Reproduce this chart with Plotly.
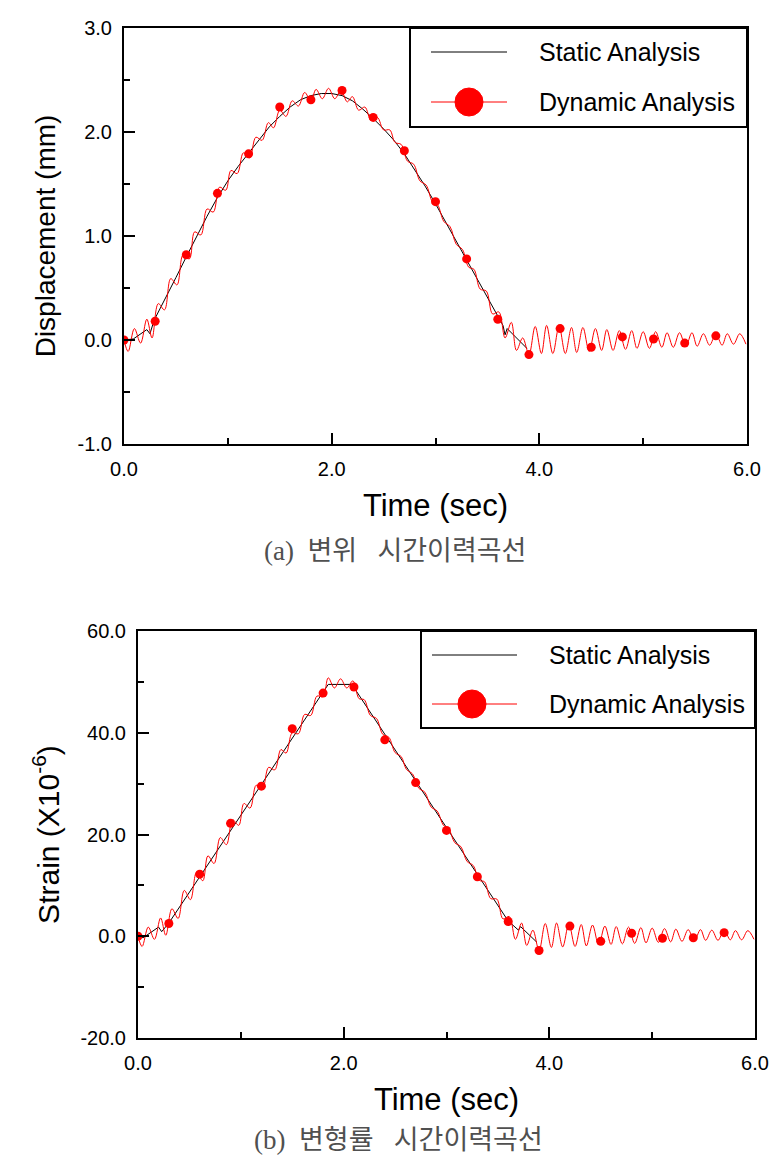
import plotly.graph_objects as go

# ---------------- data ----------------
# (a) displacement, static analysis
t_static_disp = [0.00, 0.09, 0.22, 0.25, 0.29, 0.40, 0.50, 0.60, 0.70, 0.80, 0.90,
                 1.00, 1.10, 1.20, 1.30, 1.40, 1.50, 1.60, 1.70, 1.80, 1.90, 2.00,
                 2.10, 2.20, 2.30, 2.40, 2.50, 2.60, 2.70, 2.80, 2.90, 3.00, 3.10,
                 3.20, 3.30, 3.40, 3.50, 3.60, 3.65, 3.67, 3.69, 3.88]
disp_static = [0.00, 0.01, 0.10, 0.06, 0.19, 0.40, 0.60, 0.80, 1.00, 1.19, 1.37,
               1.53, 1.67, 1.80, 1.93, 2.05, 2.15, 2.24, 2.31, 2.35, 2.37, 2.37,
               2.35, 2.30, 2.22, 2.13, 2.03, 1.92, 1.79, 1.64, 1.48, 1.31, 1.13,
               0.95, 0.77, 0.58, 0.40, 0.22, 0.14, 0.05, 0.11, -0.08]

# (b) strain, static analysis
t_static_strain = [0.00, 0.05, 0.20, 0.23, 0.30, 1.85, 2.08, 3.60, 3.70, 3.72, 3.88]
strain_static = [0.0, -0.3, 1.8, 0.9, 2.6, 49.5, 49.5, 3.0, 1.2, 1.9, -1.2]

# dynamic analysis: peaks / troughs of the oscillating curve
t_dyn = [0.00, 0.04, 0.10, 0.16, 0.22, 0.27, 0.33, 0.39, 0.45, 0.51, 0.57, 0.63,
         0.68, 0.74, 0.80, 0.86, 0.92, 0.98, 1.03, 1.09, 1.15, 1.21, 1.27, 1.33,
         1.39, 1.44, 1.50, 1.56, 1.62, 1.68, 1.74, 1.80, 1.85, 1.91, 1.97, 2.03,
         2.09, 2.15, 2.20, 2.26, 2.32, 2.38, 2.44, 2.50, 2.56, 2.61, 2.67, 2.73,
         2.79, 2.85, 2.91, 2.97, 3.02, 3.08, 3.14, 3.20, 3.26, 3.32, 3.37, 3.43,
         3.49, 3.55, 3.61, 3.67, 3.73, 3.78, 3.84, 3.90, 3.96, 4.02, 4.07, 4.13,
         4.19, 4.25, 4.31, 4.36, 4.42, 4.48, 4.54, 4.60, 4.65, 4.71, 4.77, 4.83,
         4.89, 4.94, 5.00, 5.06, 5.12, 5.18, 5.23, 5.29, 5.35, 5.41, 5.47, 5.52,
         5.58, 5.64, 5.70, 5.76, 5.81, 5.87, 5.93, 5.99]
disp_dyn = [0.00, -0.11, 0.11, -0.03, 0.20, 0.02, 0.35, 0.29, 0.59, 0.53, 0.82, 0.78,
            1.04, 1.01, 1.26, 1.23, 1.47, 1.44, 1.63, 1.60, 1.80, 1.75, 1.95, 1.92,
            2.09, 2.04, 2.21, 2.15, 2.30, 2.25, 2.38, 2.30, 2.41, 2.32, 2.42, 2.32,
            2.40, 2.29, 2.34, 2.21, 2.24, 2.11, 2.14, 2.02, 2.02, 1.90, 1.88, 1.72,
            1.69, 1.53, 1.49, 1.33, 1.30, 1.14, 1.09, 0.92, 0.87, 0.70, 0.68, 0.49,
            0.47, 0.25, 0.27, 0.02, 0.17, -0.10, 0.02, -0.14, 0.13, -0.13, 0.14, -0.13,
            0.13, -0.13, 0.12, -0.12, 0.12, -0.11, 0.11, -0.10, 0.10, -0.10, 0.09, -0.09,
            0.09, -0.08, 0.08, -0.08, 0.08, -0.07, 0.07, -0.07, 0.07, -0.06, 0.07, -0.06,
            0.06, -0.05, 0.06, -0.05, 0.06, -0.04, 0.06, -0.04]
strain_dyn = [0.0, -2.0, 1.8, -0.6, 3.6, 0.2, 5.4, 3.5, 9.0, 7.2, 12.6, 10.9,
              15.8, 14.3, 19.4, 18.0, 22.9, 21.8, 26.1, 25.2, 29.7, 29.0, 33.2, 32.7,
              36.7, 36.0, 40.0, 39.8, 43.6, 43.4, 47.2, 47.1, 50.8, 48.8, 50.6, 48.8,
              50.2, 46.7, 46.5, 43.4, 42.8, 39.7, 39.1, 36.1, 35.3, 32.8, 31.9, 29.1,
              28.3, 25.4, 24.6, 21.8, 21.2, 18.4, 17.6, 14.7, 13.9, 11.0, 10.7, 7.4,
              7.3, 3.4, 3.9, -0.6, 2.6, -1.8, 1.2, -2.8, 2.5, -2.2, 2.6, -2.1,
              2.4, -2.0, 2.3, -1.9, 2.2, -1.7, 2.0, -1.6, 1.9, -1.5, 1.8, -1.4,
              1.7, -1.3, 1.6, -1.2, 1.5, -1.1, 1.4, -1.0, 1.3, -0.9, 1.3, -0.8,
              1.2, -0.8, 1.2, -0.7, 1.1, -0.7, 1.1, -0.6]

# dynamic analysis: plotted symbols
t_marker = [0.0, 0.3, 0.6, 0.9, 1.2, 1.5, 1.8, 2.1, 2.4, 2.7,
            3.0, 3.3, 3.6, 3.9, 4.2, 4.5, 4.8, 5.1, 5.4, 5.7]
disp_marker = [0.00, 0.18, 0.82, 1.41, 1.79, 2.24, 2.31, 2.40, 2.14, 1.82,
               1.33, 0.78, 0.20, -0.14, 0.11, -0.07, 0.03, 0.01, -0.03, 0.04]
strain_marker = [0.0, 2.5, 12.2, 22.2, 29.5, 40.8, 47.8, 49.0, 38.6, 30.2,
                 20.8, 11.7, 2.9, -2.8, 2.0, -1.0, 0.6, -0.4, -0.3, 0.7]

# tick labels
x_tickvals = [0, 2, 4, 6]
x_ticktext = ["0.0", "2.0", "4.0", "6.0"]
disp_tickvals = [-1, 0, 1, 2, 3]
disp_ticktext = ["-1.0", "0.0", "1.0", "2.0", "3.0"]
strain_tickvals = [-20, 0, 20, 40, 60]
strain_ticktext = ["-20.0", "0.0", "20.0", "40.0", "60.0"]

series_names = ["Static Analysis", "Dynamic Analysis"]
x_title = "Time (sec)"
y_titles = ["Displacement (mm)", "Strain (X10<sup>-6</sup>)"]
captions = ["(a)\u00a0\u00a0변위\u00a0\u00a0\u00a0시간이력곡선",
            "(b)\u00a0\u00a0변형률\u00a0\u00a0\u00a0시간이력곡선"]

# ---------------- styling ----------------
W, H = 775, 1165
FONT = "Liberation Sans, Arial, sans-serif"
RED = "#ff0000"


def px(x):
    return x / W


def py(y):
    return 1 - y / H


fig = go.Figure()

panels = [
    dict(xa="x", ya="y", ts=t_static_disp, vs=disp_static, vd=disp_dyn, vm=disp_marker),
    dict(xa="x2", ya="y2", ts=t_static_strain, vs=strain_static, vd=strain_dyn, vm=strain_marker),
]
for p in panels:
    fig.add_trace(go.Scatter(x=p["ts"], y=p["vs"], mode="lines", name=series_names[0],
                             line=dict(color="black", width=1), xaxis=p["xa"], yaxis=p["ya"],
                             showlegend=False, hoverinfo="skip"))
    fig.add_trace(go.Scatter(x=t_dyn, y=p["vd"], mode="lines", name=series_names[1],
                             line=dict(color=RED, width=1, shape="spline", smoothing=1.0),
                             xaxis=p["xa"], yaxis=p["ya"], showlegend=False))
    fig.add_trace(go.Scatter(x=t_marker, y=p["vm"], mode="markers", name=series_names[1],
                             marker=dict(color=RED, size=9, line=dict(width=0)),
                             xaxis=p["xa"], yaxis=p["ya"], showlegend=False))

tickfont = dict(family=FONT, size=20, color="black")


def xcfg(domain, anchor):
    return dict(domain=domain, anchor=anchor, range=[0, 6],
                tickmode="array", tickvals=x_tickvals, ticktext=x_ticktext,
                ticks="inside", ticklen=11, tickwidth=2,
                tickcolor="black", showline=True, linewidth=2, linecolor="black",
                mirror=True, showgrid=False, zeroline=False, tickfont=tickfont,
                ticklabelstandoff=6, automargin=False,
                minor=dict(tickmode="linear", tick0=0, dtick=1, ticks="inside", ticklen=6,
                           tickwidth=2, tickcolor="black", showgrid=False),
                title=dict(text=x_title, font=dict(family=FONT, size=31, color="black"),
                           standoff=15))


def ycfg(domain, anchor, rng, tv, tt, title, tsize, standoff):
    return dict(domain=domain, anchor=anchor, range=rng,
                tickmode="array", tickvals=tv, ticktext=tt,
                ticks="inside", ticklen=11, tickwidth=2,
                tickcolor="black", showline=True, linewidth=2, linecolor="black",
                mirror=True, showgrid=False, zeroline=False, tickfont=tickfont,
                ticklabelstandoff=6, automargin=False,
                minor=dict(tickmode="linear", tick0=rng[0], dtick=(tv[1] - tv[0]) / 2,
                           ticks="inside", ticklen=6, tickwidth=2, tickcolor="black",
                           showgrid=False),
                title=dict(text=title, font=dict(family=FONT, size=tsize, color="black"),
                           standoff=standoff))


fig.update_layout(
    width=W, height=H, margin=dict(l=0, r=0, t=0, b=0),
    paper_bgcolor="white", plot_bgcolor="white", showlegend=False,
    xaxis=xcfg([px(124), px(747)], "y"),
    yaxis=ycfg([py(444), py(28)], "x", [-1, 3], disp_tickvals, disp_ticktext,
               y_titles[0], 28, 14),
    xaxis2=xcfg([px(138), px(755)], "y2"),
    yaxis2=ycfg([py(1038), py(631)], "x2", [-20, 60], strain_tickvals, strain_ticktext,
                y_titles[1], 30, 12),
)

# hand-drawn legend boxes (large symbol as in the reference)
shapes = []
annotations = []
legends = [
    dict(box=(410, 28, 747, 127), l0=431, l1=507, cx=469, tx=537, y1=52, y2=102),
    dict(box=(421, 631, 755, 728), l0=432, l1=517, cx=472, tx=547, y1=655, y2=704),
]
for lg in legends:
    x0, y0, x1, y1 = lg["box"]
    shapes.append(dict(type="rect", xref="paper", yref="paper", x0=px(x0), x1=px(x1),
                       y0=py(y1), y1=py(y0), line=dict(color="black", width=2),
                       fillcolor="white", layer="above"))
    shapes.append(dict(type="line", xref="paper", yref="paper", x0=px(lg["l0"]), x1=px(lg["l1"]),
                       y0=py(lg["y1"]), y1=py(lg["y1"]), line=dict(color="black", width=1),
                       layer="above"))
    shapes.append(dict(type="line", xref="paper", yref="paper", x0=px(lg["l0"]), x1=px(lg["l1"]),
                       y0=py(lg["y2"]), y1=py(lg["y2"]), line=dict(color=RED, width=1),
                       layer="above"))
    r = 14
    shapes.append(dict(type="circle", xref="paper", yref="paper",
                       x0=px(lg["cx"] - r), x1=px(lg["cx"] + r),
                       y0=py(lg["y2"] + r), y1=py(lg["y2"] - r),
                       line=dict(color=RED, width=1), fillcolor=RED, layer="above"))
    for name, yy in zip(series_names, (lg["y1"], lg["y2"])):
        annotations.append(dict(text=name, xref="paper", yref="paper", x=px(lg["tx"]), y=py(yy),
                                xanchor="left", yanchor="middle", showarrow=False,
                                font=dict(family=FONT, size=25, color="black")))

capfont = dict(family="Liberation Serif, Noto Sans CJK KR, serif", size=27, color="#505050")
annotations.append(dict(text=captions[0], xref="paper", yref="paper", x=px(395), y=py(551),
                        xanchor="center", yanchor="middle", showarrow=False, font=capfont))
annotations.append(dict(text=captions[1], xref="paper", yref="paper", x=px(398), y=py(1140),
                        xanchor="center", yanchor="middle", showarrow=False, font=capfont))

fig.update_layout(shapes=shapes, annotations=annotations)

fig.write_html("out.html", config={"displayModeBar": False},
               post_script="document.body.style.margin='0px';document.body.style.padding='0px';")
